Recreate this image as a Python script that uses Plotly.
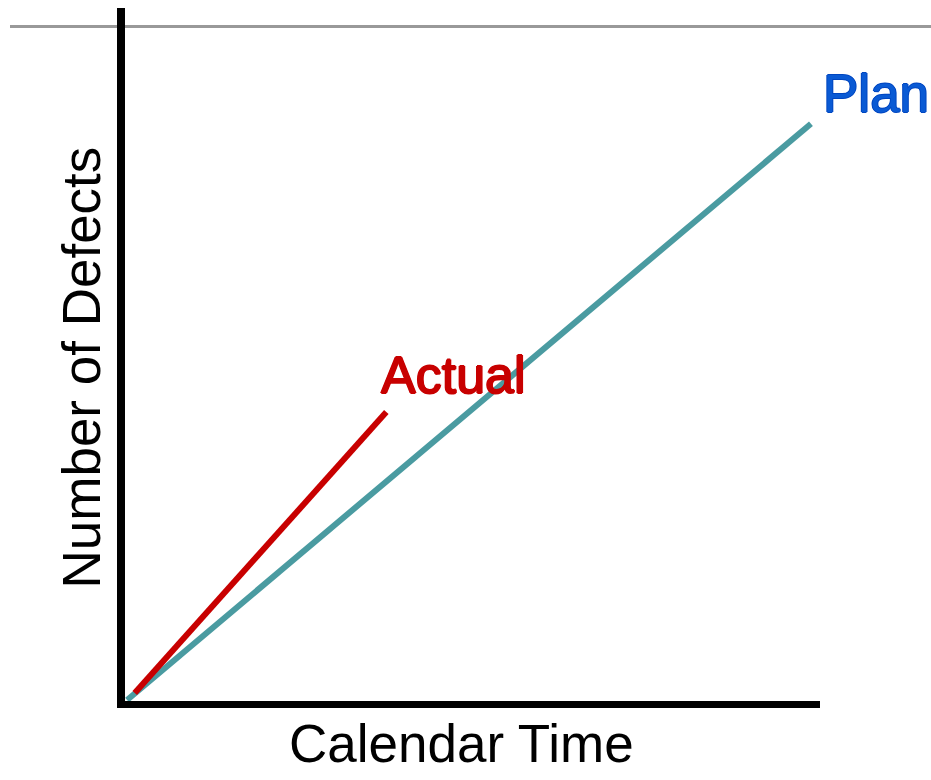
import plotly.graph_objects as go

# Cumulative defects over calendar time (arbitrary units)
plan_time = [0.03, 9.87]
plan_defects = [0.15, 83.3]
actual_time = [0.14, 3.76]
actual_defects = [1.15, 41.7]

x_title = "Calendar Time"
y_title = "Number of Defects"

W, H = 931, 780
L, R, T, B = 125, 111, 8, 79
PW, PH = W - L - R, H - T - B

FONT = "Liberation Sans, Arial, sans-serif"
TEAL = "#4A9BA1"
RED = "#C80000"
BLUE = "#0A5AD4"


def px(xp):
    return (xp - L) / PW


def py(yp):
    return (H - B - yp) / PH


fig = go.Figure()
fig.add_trace(go.Scatter(x=plan_time, y=plan_defects, mode="lines",
                         line=dict(color=TEAL, width=6), cliponaxis=False,
                         hoverinfo="skip", showlegend=False))
fig.add_trace(go.Scatter(x=actual_time, y=actual_defects, mode="lines",
                         line=dict(color=RED, width=6), cliponaxis=False,
                         hoverinfo="skip", showlegend=False))

# thin grey rule across the top
fig.add_shape(type="line", xref="paper", yref="paper", layer="below",
              x0=px(10), x1=px(931), y0=py(26.5), y1=py(26.5),
              line=dict(color="#999999", width=3))


def outline(c):
    return f"1px 0 0 {c}, -1px 0 0 {c}, 0 1px 0 {c}, 0 -1px 0 {c}"


fig.add_annotation(text="Plan", xref="paper", yref="paper",
                   x=px(821), y=py(93.5), xanchor="left", yanchor="middle",
                   showarrow=False,
                   font=dict(family=FONT, size=53, color=BLUE,
                             shadow=outline("#0046C0")))
fig.add_annotation(text="Actual", xref="paper", yref="paper",
                   x=px(453), y=py(375), xanchor="center", yanchor="middle",
                   showarrow=False,
                   font=dict(family=FONT, size=52, color=RED,
                             shadow=outline(RED)))
fig.add_annotation(text=x_title, xref="paper", yref="paper",
                   x=px(461.7), y=py(743.5), xanchor="center", yanchor="middle",
                   showarrow=False,
                   font=dict(family=FONT, size=53, color="black"))
fig.add_annotation(text=y_title, xref="paper", yref="paper",
                   x=px(81.5), y=py(368), xanchor="center", yanchor="middle",
                   textangle=-90, showarrow=False,
                   font=dict(family=FONT, size=53, color="black"))

axis_common = dict(showgrid=False, zeroline=False, showticklabels=False,
                   ticks="", showline=True, linecolor="black", fixedrange=True)
fig.update_xaxes(range=[0, 10], linewidth=7, **axis_common)
fig.update_yaxes(range=[0, 100], linewidth=8, **axis_common)

fig.update_layout(width=W, height=H, margin=dict(l=L, r=R, t=T, b=B),
                  paper_bgcolor="white", plot_bgcolor="white",
                  showlegend=False)

fig.write_html("out.html", config=dict(displayModeBar=False))
